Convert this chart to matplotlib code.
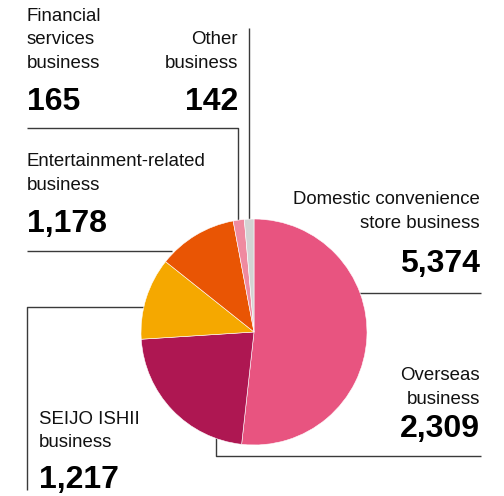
import matplotlib
matplotlib.use("Agg")
import matplotlib.pyplot as plt

# Segment sales (order: clockwise from 12 o'clock)
segments = ["Domestic convenience\nstore business", "Overseas\nbusiness",
            "SEIJO ISHII\nbusiness", "Entertainment-related\nbusiness",
            "Financial\nservices\nbusiness", "Other\nbusiness"]
values = [5374, 2309, 1217, 1178, 165, 142]
colors = ["#E85480", "#AE1752", "#F5A800", "#E95504", "#EF8AA0", "#D3D3D3"]

W, H = 504, 496
plt.rcParams["font.family"] = ["Liberation Sans", "DejaVu Sans"]
fig = plt.figure(figsize=(W / 100, H / 100), dpi=100)
ax = fig.add_axes([0, 0, 1, 1])


def Y(py):
    return H - py


ax.pie(values, colors=colors, startangle=90, counterclock=False,
       center=(254, Y(332)), radius=113,
       wedgeprops=dict(linewidth=0.4, edgecolor="white", zorder=3))
ax.set_xlim(0, W)
ax.set_ylim(0, H)
ax.set_aspect("equal")
ax.axis("off")

lc = "#3a3a3a"
lw = 1.0


def line(xs, ys):
    ax.plot(xs, [Y(v) for v in ys], color=lc, lw=lw, zorder=1,
            solid_capstyle="butt")


# leader lines
line([27, 238, 238], [128, 128, 224])          # Financial
line([249, 249], [28, 224])                     # Other
line([27, 172], [251, 251])                     # Entertainment
line([481, 355], [293, 293])                    # Domestic
line([150, 27, 27], [307, 307, 490])            # SEIJO ISHII
line([216, 216, 481], [436, 456, 456])          # Overseas

fs_lab = 13.4
fs_num = 23
lab_gap = 23.5


def label(x, y_last, text, num, y_num, ha):
    lines = text.split("\n")
    n = len(lines)
    for i, t in enumerate(lines):
        ax.text(x, Y(y_last - (n - 1 - i) * lab_gap), t, fontsize=fs_lab,
                ha=ha, va="baseline", color="#111111")
    ax.text(x, Y(y_num), f"{num:,}", fontsize=fs_num, fontweight="bold",
            ha=ha, va="baseline", color="#000000")


label(27, 68, segments[4], values[4], 110, "left")
label(238, 68, segments[5], values[5], 110, "right")
label(27, 190, segments[3], values[3], 232, "left")
label(480, 228, segments[0], values[0], 272, "right")
label(480, 404, segments[1], values[1], 437, "right")
label(39, 447, segments[2], values[2], 488, "left")

fig.savefig("out.png", dpi=100)
